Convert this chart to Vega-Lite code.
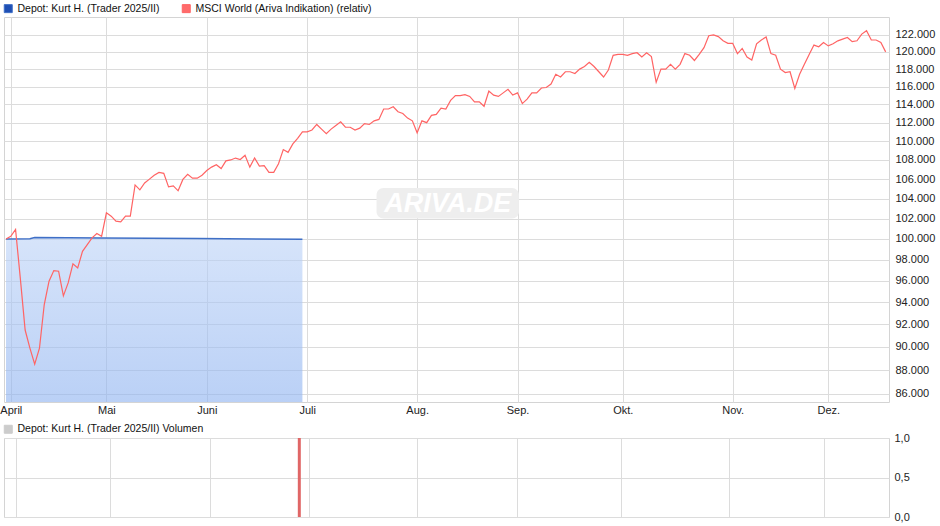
{
  "$schema": "https://vega.github.io/schema/vega-lite/v6.json",
  "padding": {"left": -1, "top": 2, "right": 0, "bottom": 0},
  "bounds": "flush",
  "spacing": 36,
  "background": "white",
  "config": {
    "font": "Liberation Sans",
    "view": {"stroke": "#d4d4d4"},
    "axis": {"gridColor": "#dcdcdc", "gridWidth": 1, "domain": false, "ticks": false, "title": null, "labelFont": "Liberation Sans", "labelFontSize": 11, "labelColor": "#222222", "labelFlush": false, "labelOverlap": false}
  },
  "datasets": {
    "msci": [
      {"t":0,"v":100.0},{"t":1,"v":100.26},{"t":2,"v":100.92},{"t":3,"v":96.2},{"t":4,"v":91.5},{"t":5,"v":89.9},{"t":6,"v":88.5},{"t":7,"v":89.9},{"t":8,"v":93.8},{"t":9,"v":95.96},
      {"t":10,"v":96.96},{"t":11,"v":96.9},{"t":12,"v":94.6},{"t":13,"v":95.8},{"t":14,"v":97.6},{"t":15,"v":97.2},{"t":16,"v":98.8},{"t":17,"v":99.45},{"t":18,"v":100.1},{"t":19,"v":100.53},
      {"t":20,"v":100.26},{"t":21,"v":102.57},{"t":22,"v":102.24},{"t":23,"v":101.74},{"t":24,"v":101.67},{"t":25,"v":102.24},{"t":26,"v":102.24},{"t":27,"v":105.4},{"t":28,"v":104.9},{"t":29,"v":105.6},
      {"t":30,"v":106.0},{"t":31,"v":106.4},{"t":32,"v":106.7},{"t":33,"v":106.6},{"t":34,"v":105.2},{"t":35,"v":105.3},{"t":36,"v":104.8},{"t":37,"v":105.97},{"t":38,"v":106.5},{"t":39,"v":106.1},
      {"t":40,"v":106.1},{"t":41,"v":106.4},{"t":42,"v":106.9},{"t":43,"v":107.25},{"t":44,"v":107.5},{"t":45,"v":107.1},{"t":46,"v":107.9},{"t":47,"v":108.0},{"t":48,"v":108.2},{"t":49,"v":108.05},
      {"t":50,"v":108.5},{"t":51,"v":107.25},{"t":52,"v":108.2},{"t":53,"v":107.35},{"t":54,"v":107.4},{"t":55,"v":106.7},{"t":56,"v":106.7},{"t":57,"v":107.6},{"t":58,"v":109.1},{"t":59,"v":108.8},
      {"t":60,"v":109.7},{"t":61,"v":110.3},{"t":62,"v":111.0},{"t":63,"v":111.0},{"t":64,"v":111.2},{"t":65,"v":111.8},{"t":66,"v":111.3},{"t":67,"v":110.8},{"t":68,"v":111.3},{"t":69,"v":111.7},
      {"t":70,"v":112.1},{"t":71,"v":111.5},{"t":72,"v":111.5},{"t":73,"v":111.2},{"t":74,"v":111.4},{"t":75,"v":111.9},{"t":76,"v":111.8},{"t":77,"v":112.2},{"t":78,"v":112.35},{"t":79,"v":113.5},
      {"t":80,"v":113.5},{"t":81,"v":113.75},{"t":82,"v":113.2},{"t":83,"v":113.0},{"t":84,"v":112.5},{"t":85,"v":112.2},{"t":86,"v":110.9},{"t":87,"v":112.2},{"t":88,"v":112.0},{"t":89,"v":112.8},
      {"t":90,"v":112.9},{"t":91,"v":113.6},{"t":92,"v":113.5},{"t":93,"v":114.45},{"t":94,"v":115.0},{"t":95,"v":115.0},{"t":96,"v":115.1},{"t":97,"v":114.9},{"t":98,"v":114.3},{"t":99,"v":114.3},
      {"t":100,"v":113.8},{"t":101,"v":115.5},{"t":102,"v":115.05},{"t":103,"v":114.9},{"t":104,"v":115.3},{"t":105,"v":115.7},{"t":106,"v":115.05},{"t":107,"v":115.3},{"t":108,"v":114.1},{"t":109,"v":114.6},
      {"t":110,"v":115.3},{"t":111,"v":115.3},{"t":112,"v":115.85},{"t":113,"v":115.9},{"t":114,"v":116.3},{"t":115,"v":117.4},{"t":116,"v":117.1},{"t":117,"v":117.7},{"t":118,"v":117.7},{"t":119,"v":117.5},
      {"t":120,"v":118.0},{"t":121,"v":118.3},{"t":122,"v":118.8},{"t":123,"v":118.3},{"t":124,"v":117.7},{"t":125,"v":117.1},{"t":126,"v":117.9},{"t":127,"v":119.6},{"t":128,"v":119.7},{"t":129,"v":119.7},
      {"t":130,"v":119.6},{"t":131,"v":119.8},{"t":132,"v":119.9},{"t":133,"v":119.4},{"t":134,"v":119.9},{"t":135,"v":119.45},{"t":136,"v":116.5},{"t":137,"v":118.0},{"t":138,"v":118.0},{"t":139,"v":118.55},
      {"t":140,"v":118.0},{"t":141,"v":118.55},{"t":142,"v":119.8},{"t":143,"v":119.6},{"t":144,"v":119.0},{"t":145,"v":119.7},{"t":146,"v":120.5},{"t":147,"v":121.9},{"t":148,"v":122.0},{"t":149,"v":121.8},
      {"t":150,"v":121.3},{"t":151,"v":121.0},{"t":152,"v":121.0},{"t":153,"v":119.8},{"t":154,"v":120.4},{"t":155,"v":119.4},{"t":156,"v":119.05},{"t":157,"v":120.95},{"t":158,"v":121.4},{"t":159,"v":121.75},
      {"t":160,"v":119.8},{"t":161,"v":119.6},{"t":162,"v":118.0},{"t":163,"v":117.6},{"t":164,"v":117.7},{"t":165,"v":115.8},{"t":166,"v":117.4},{"t":167,"v":118.55},{"t":168,"v":119.7},{"t":169,"v":120.8},
      {"t":170,"v":120.6},{"t":171,"v":121.1},{"t":172,"v":120.7},{"t":173,"v":120.95},{"t":174,"v":121.3},{"t":175,"v":121.5},{"t":176,"v":121.7},{"t":177,"v":121.2},{"t":178,"v":121.3},{"t":179,"v":122.1},
      {"t":180,"v":122.5},{"t":181,"v":121.4},{"t":182,"v":121.4},{"t":183,"v":121.1},{"t":184,"v":120.0}
    ],
    "depot": [
      {"t":0,"v":100.0},{"t":5,"v":100.02},{"t":6,"v":100.14},{"t":20,"v":100.1},{"t":40,"v":100.04},{"t":62,"v":99.97}
    ],
    "volume": [
      {"t":61,"vol":1.0}
    ]
  },
  "resolve": {"scale": {"color": "independent", "x": "independent", "y": "independent"}, "legend": {"color": "independent"}},
  "vconcat": [
    {
      "width": 885,
      "height": 385,
      "layer": [
        {
          "data": {"values": [{"label": "ARIVA.DE"}]},
          "mark": {"type": "rect", "color": "#eeeeee", "cornerRadius": 7},
          "encoding": {
            "x": {"datum": 77.5, "type": "quantitative", "scale": {"domain": [-0.42, 184.7], "nice": false, "zero": false},
              "axis": {"values": [1,21,42,63,86,107,129,152,172], "grid": true, "labelPadding": 2,
                "labelExpr": "datum.value==1?'April':datum.value==21?'Mai':datum.value==42?'Juni':datum.value==63?'Juli':datum.value==86?'Aug.':datum.value==107?'Sep.':datum.value==129?'Okt.':datum.value==152?'Nov.':'Dez.'"}},
            "x2": {"datum": 107.3},
            "y": {"datum": 102.0, "type": "quantitative", "scale": {"type": "log", "domain": [85.3, 124.15], "nice": false, "zero": false},
              "axis": {"orient": "right", "values": [86,88,90,92,94,96,98,100,102,104,106,108,110,112,114,116,118,120,122], "grid": true, "labelPadding": 6, "labelExpr": "format(datum.value, '.3f')"}},
            "y2": {"datum": 105.1}
          }
        },
        {
          "data": {"values": [{"label": "ARIVA.DE"}]},
          "mark": {"type": "text", "color": "#ffffff", "fontSize": 27, "fontStyle": "italic", "fontWeight": "bold", "font": "Liberation Sans", "align": "center", "baseline": "middle"},
          "encoding": {"x": {"datum": 92.4, "type": "quantitative"}, "y": {"datum": 103.5, "type": "quantitative"}, "text": {"field": "label"}}
        },
        {
          "data": {"name": "depot"},
          "mark": {"type": "area", "opacity": 0.6, "interpolate": "linear",
            "color": {"gradient": "linear", "x1": 0, "y1": 0, "x2": 0, "y2": 1, "stops": [{"offset": 0, "color": "#bbd2f7"}, {"offset": 1, "color": "#8cb1f0"}]}},
          "encoding": {"x": {"field": "t", "type": "quantitative"}, "y": {"field": "v", "type": "quantitative"}, "y2": {"datum": 85.3}}
        },
        {
          "data": {"name": "depot"},
          "mark": {"type": "line", "strokeWidth": 1.5},
          "encoding": {
            "x": {"field": "t", "type": "quantitative"}, "y": {"field": "v", "type": "quantitative"},
            "color": {"datum": "Depot: Kurt H. (Trader 2025/II)", "type": "nominal",
              "scale": {"domain": ["Depot: Kurt H. (Trader 2025/II)", "MSCI World (Ariva Indikation) (relativ)"], "range": ["#3f6fc6", "#ff6464"]},
              "legend": {"orient": "none", "legendX": -1, "legendY": -14, "direction": "horizontal", "title": null, "symbolType": "square", "symbolSize": 64,
                "labelFont": "Liberation Sans", "labelFontSize": 10.5, "labelColor": "#111111", "labelOffset": 4, "columnPadding": 20, "padding": 0, "labelLimit": 400,
                "encode": {"symbols": {"update": {"fill": {"signal": "datum.value == 'MSCI World (Ariva Indikation) (relativ)' ? '#ff6b6b' : '#1e4fb4'"}, "stroke": {"value": "#333333"}, "strokeWidth": {"value": 1}, "opacity": {"value": 1}}}}}
            }
          }
        },
        {
          "data": {"name": "msci"},
          "mark": {"type": "line", "strokeWidth": 1.2},
          "encoding": {"x": {"field": "t", "type": "quantitative"}, "y": {"field": "v", "type": "quantitative"}, "color": {"datum": "MSCI World (Ariva Indikation) (relativ)", "type": "nominal"}}
        }
      ]
    },
    {
      "width": 885,
      "height": 79,
      "data": {"name": "volume"},
      "encoding": {
        "x": {"field": "t", "type": "quantitative", "scale": {"domain": [-0.42, 184.7], "nice": false, "zero": false},
          "axis": {"values": [1,21,42,63,86,107,129,152,172], "grid": true, "labels": false}},
        "y": {"field": "vol", "type": "quantitative", "scale": {"domain": [0, 1], "nice": false},
          "axis": {"orient": "right", "values": [0, 0.5, 1], "grid": true, "labelPadding": 5, "labelExpr": "replace(format(datum.value, '.1f'), '.', ',')"}}
      },
      "layer": [
        {
          "mark": {"type": "bar", "size": 3, "color": "#e06666"}
        },
        {
          "mark": {"type": "line", "strokeWidth": 1},
          "encoding": {
            "color": {"datum": "Depot: Kurt H. (Trader 2025/II) Volumen", "type": "nominal",
              "scale": {"range": ["#cccccc"]},
              "legend": {"orient": "none", "legendX": -1, "legendY": -14, "title": null, "symbolType": "square", "symbolSize": 64,
                "labelFont": "Liberation Sans", "labelFontSize": 10.5, "labelColor": "#111111", "labelOffset": 4, "padding": 0, "labelLimit": 400,
                "encode": {"symbols": {"update": {"fill": {"signal": "'#cccccc'"}, "stroke": {"value": "#333333"}, "strokeWidth": {"value": 1}, "opacity": {"value": 1}}}}}
            }
          }
        }
      ]
    }
  ]
}
